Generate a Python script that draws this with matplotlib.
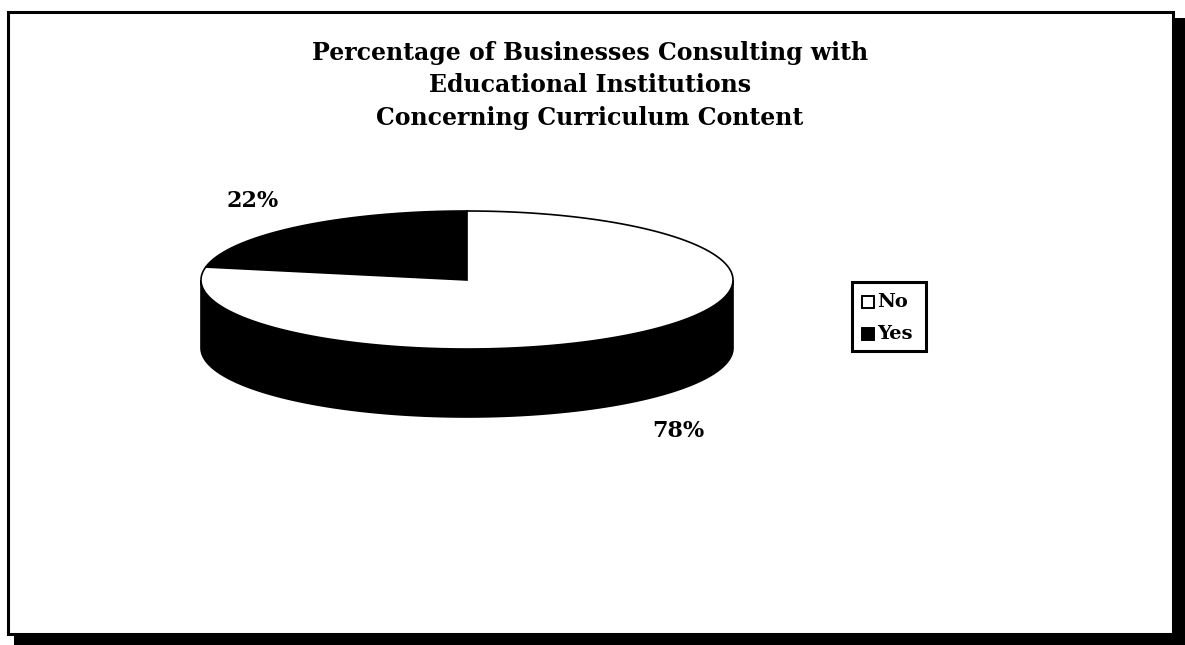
import numpy as np
import matplotlib
matplotlib.use("Agg")
import matplotlib.pyplot as plt
from matplotlib.patches import Polygon, Rectangle

# Survey result
categories = ["No", "Yes"]
percentages = [78, 22]
colors = ["white", "black"]
title_lines = ["Percentage of Businesses Consulting with",
               "Educational Institutions",
               "Concerning Curriculum Content"]

W, H = 1185, 645
fig = plt.figure(figsize=(W / 100, H / 100), dpi=100)
ax = fig.add_axes([0, 0, 1, 1])
ax.set_xlim(0, W)
ax.set_ylim(H, 0)
ax.axis("off")

font = dict(family="DejaVu Serif", weight="bold")

# Framed chart area with a drop shadow
ax.add_patch(Rectangle((14, 18), W - 14, H - 18, facecolor="black", edgecolor="none", zorder=0))
ax.add_patch(Rectangle((8, 12), 1165, 622, facecolor="white", edgecolor="black", linewidth=2.2, zorder=1))

# Title
for i, line in enumerate(title_lines):
    ax.text(590, 53 + i * 32.5, line, ha="center", va="center", fontsize=17, zorder=5, **font)

# 3D pie geometry
cx, cy = 467, 280      # centre of the top face
rx, ry = 266, 69       # radii of the top ellipse
depth = 68             # thickness of the pie

def ell(theta_deg, dy=0.0):
    t = np.radians(theta_deg)
    return np.column_stack([cx + rx * np.cos(t), cy - ry * np.sin(t) + dy])

# Slices run counter-clockwise starting from 12 o'clock, Yes first
fracs = np.array(percentages, dtype=float) / sum(percentages)
order = [1, 0]
start = 90.0
spans = {}
for idx in order:
    span = fracs[idx] * 360.0
    spans[idx] = (start, start + span)
    start += span

# Side wall (front half of the pie)
top_arc = ell(np.linspace(180, 360, 200))
bot_arc = ell(np.linspace(360, 180, 200), dy=depth)
ax.add_patch(Polygon(np.vstack([top_arc, bot_arc]), closed=True, facecolor="black",
                     edgecolor="black", linewidth=1.2, zorder=2))

# Top faces of the slices
for idx in order:
    a0, a1 = spans[idx]
    arc = ell(np.linspace(a0, a1, 200))
    pts = np.vstack([[cx, cy], arc])
    ax.add_patch(Polygon(pts, closed=True, facecolor=colors[idx], edgecolor="black",
                         linewidth=1.2, zorder=3))

# Percentage labels
ax.text(253, 201, f"{percentages[1]}%", ha="center", va="center", fontsize=16, zorder=5, **font)
ax.text(678, 431, f"{percentages[0]}%", ha="center", va="center", fontsize=16, zorder=5, **font)

# Legend
ax.add_patch(Rectangle((852, 282), 74, 69, facecolor="white", edgecolor="black", linewidth=2.2, zorder=4))
for i, name in enumerate(categories):
    y = 302 + i * 32
    ax.add_patch(Rectangle((862, y - 6), 12, 12, facecolor=colors[i], edgecolor="black",
                           linewidth=1.4, zorder=5))
    ax.text(877, y, name, ha="left", va="center", fontsize=14, zorder=5, **font)

fig.savefig("out.png", dpi=100)
